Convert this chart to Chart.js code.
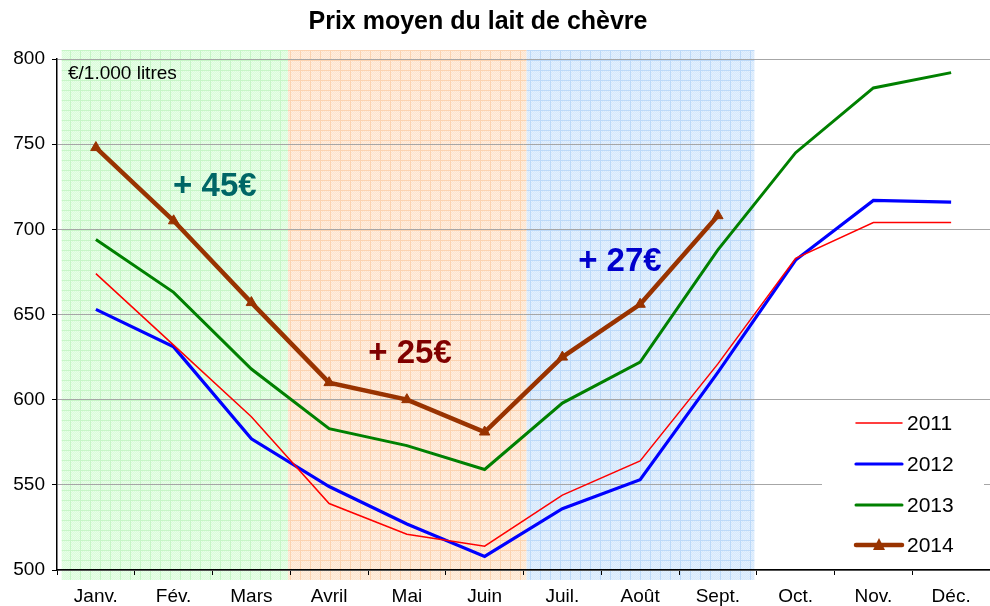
<!DOCTYPE html>
<html>
<head>
<meta charset="utf-8">
<script src="https://cdn.jsdelivr.net/npm/chart.js@4.4.1/dist/chart.umd.min.js"></script>
<style>
html,body{margin:0;padding:0;background:#fff;}
#wrap{width:990px;height:606px;position:relative;}
</style>
</head>
<body>
<div id="wrap"><canvas id="c" width="990" height="606"></canvas></div>
<script>
const chartTitle = "Prix moyen du lait de chèvre";
const unitLabel = "€/1.000 litres";
const months = ["Janv.","Fév.","Mars","Avril","Mai","Juin","Juil.","Août","Sept.","Oct.","Nov.","Déc."];
const yTicks = [500,550,600,650,700,750,800];
const series2011 = [674,632,590,539,521,514,544,564,621,683,704,704];
const series2012 = [653,631,577,549,527,508,536,553,616,682,717,716];
const series2013 = [694,663,618,583,573,559,598,622,688,745,783,792];
const series2014 = [748,705,657,610,600,581,625,656,708,null,null,null];
const seriesNames = ["2011","2012","2013","2014"];
const gainLabels = ["+ 45€","+ 25€","+ 27€"];

const FONT = "'Liberation Sans', Arial, sans-serif";

function makePattern(base, dot, line){
  const t = document.createElement('canvas');
  t.width = 10; t.height = 10;
  const g = t.getContext('2d');
  g.fillStyle = base; g.fillRect(0,0,10,10);
  g.fillStyle = dot;
  for(let y=0;y<10;y++) for(let x=0;x<10;x++) if((x+y)%2===0) g.fillRect(x,y,1,1);
  g.fillStyle = line;
  g.fillRect(0,0,10,1); g.fillRect(0,0,1,10);
  return g.createPattern(t,'repeat');
}

const bandsUnder = {
  id:'bandsUnder',
  beforeDraw(chart){
    const {ctx, chartArea, scales:{x}} = chart;
    const step = x.getPixelForValue(1) - x.getPixelForValue(0);
    const pats = [
      makePattern('#dafcda','#e8fee8','#c6f5c6'),
      makePattern('#fde4cd','#feeee0','#fbd3b0'),
      makePattern('#d5e8fc','#e4f0fd','#bcd9f8')
    ];
    const edges = [
      x.getPixelForValue(0) - step*0.44,
      x.getPixelForValue(2) + step*0.47,
      x.getPixelForValue(5) + step*0.54,
      x.getPixelForValue(8) + step*0.47
    ];
    const top = chartArea.top - 9, bottom = chartArea.bottom + 10;
    ctx.save();
    for(let i=0;i<3;i++){
      ctx.fillStyle = pats[i];
      ctx.fillRect(edges[i], top, edges[i+1]-edges[i], bottom-top);
    }
    ctx.restore();
  }
};

const overlayPlugin = {
  id:'overlay',
  afterDraw(chart){
    const {ctx, chartArea, scales:{x,y}} = chart;
    const step = x.getPixelForValue(1)-x.getPixelForValue(0);
    ctx.save();
    // title
    ctx.fillStyle = '#000';
    ctx.font = `bold 25px ${FONT}`;
    ctx.textAlign = 'center'; ctx.textBaseline = 'middle';
    ctx.fillText(chartTitle, 478, 22);
    // unit
    ctx.font = `19px ${FONT}`;
    ctx.textAlign = 'left';
    ctx.fillText(unitLabel, chartArea.left + 11, y.getPixelForValue(791.5));
    // gains
    ctx.font = `bold 33px ${FONT}`;
    ctx.textAlign = 'center';
    ctx.fillStyle = '#006666';
    ctx.fillText(gainLabels[0], x.getPixelForValue(1) + 0.53*step, y.getPixelForValue(725));
    ctx.fillStyle = '#800000';
    ctx.fillText(gainLabels[1], x.getPixelForValue(4) + 0.04*step, y.getPixelForValue(627));
    ctx.fillStyle = '#0000cc';
    ctx.fillText(gainLabels[2], x.getPixelForValue(7) - 0.26*step, y.getPixelForValue(681));
    // legend
    ctx.fillStyle = '#fff';
    ctx.fillRect(822, 405, 162, 160);
    const ds = chart.data.datasets;
    const rows = [423,464,505,545];
    ctx.font = `21px ${FONT}`;
    ctx.textAlign = 'left';
    for(let i=0;i<4;i++){
      const d = ds.find(q=>q.label===seriesNames[i]);
      ctx.strokeStyle = d.borderColor;
      ctx.lineWidth = d.borderWidth;
      ctx.lineCap = 'round';
      ctx.beginPath(); ctx.moveTo(856, rows[i]); ctx.lineTo(902, rows[i]); ctx.stroke();
      if(d.pointRadius > 0){
        ctx.fillStyle = d.borderColor;
        ctx.beginPath();
        ctx.moveTo(879, rows[i]-7); ctx.lineTo(885, rows[i]+5); ctx.lineTo(873, rows[i]+5); ctx.closePath(); ctx.fill();
      }
      ctx.fillStyle = '#000';
      ctx.fillText(seriesNames[i], 907, rows[i]+1);
    }
    ctx.restore();
  }
};

new Chart(document.getElementById('c'), {
  type:'line',
  data:{
    labels: months,
    datasets:[
      {label:seriesNames[3], data:series2014, borderColor:'#993300', backgroundColor:'#993300', borderWidth:4.5, pointStyle:'triangle', pointRadius:6, pointBorderWidth:1, pointBackgroundColor:'#993300', pointBorderColor:'#993300', tension:0, order:0},
      {label:seriesNames[0], data:series2011, borderColor:'#ff0000', borderWidth:1.5, pointRadius:0, tension:0, order:1},
      {label:seriesNames[2], data:series2013, borderColor:'#008000', borderWidth:3, pointRadius:0, tension:0, order:2},
      {label:seriesNames[1], data:series2012, borderColor:'#0000ff', borderWidth:3.2, pointRadius:0, tension:0, order:3}
    ]
  },
  options:{
    responsive:false,
    animation:false,
    layout:{autoPadding:false, padding:{top:59,left:0,right:0,bottom:0}},
    plugins:{legend:{display:false}, title:{display:false}, tooltip:{enabled:false}},
    scales:{
      x:{
        offset:true,
        grid:{display:true, drawOnChartArea:false, offset:true, tickColor:'#000', tickLength:5},
        border:{color:'#000', width:1.5},
        ticks:{color:'#000', font:{family:FONT, size:19}, padding:10, maxRotation:0, autoSkip:false},
        afterFit(s){ s.height = 36; s.paddingRight = 0; s.paddingLeft = 0; }
      },
      y:{
        min:yTicks[0], max:yTicks[yTicks.length-1],
        afterBuildTicks(s){ s.ticks = yTicks.map(v=>({value:v})); },
        grid:{color:'#a6a6a6', lineWidth:1, tickColor:'#000', tickLength:5},
        border:{color:'#000', width:1.5},
        ticks:{color:'#000', font:{family:FONT, size:19}, padding:7},
        afterFit(s){ s.width = 57; }
      }
    }
  },
  plugins:[bandsUnder, overlayPlugin]
});
</script>
</body>
</html>
